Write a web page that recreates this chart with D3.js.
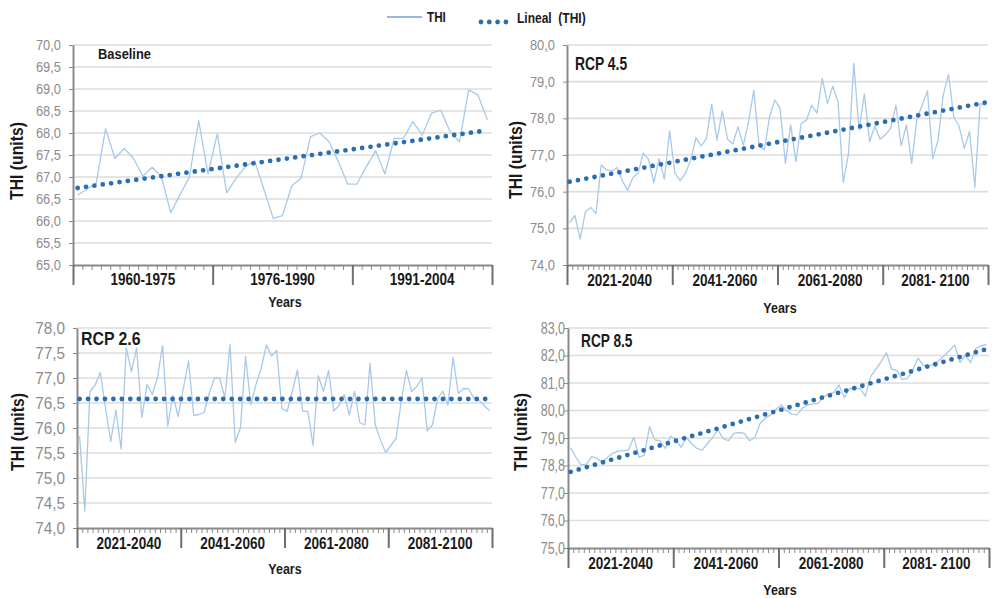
<!DOCTYPE html>
<html>
<head>
<meta charset="utf-8">
<script src="https://cdn.jsdelivr.net/npm/d3@7"></script>
<style>
  body { margin: 0; background: #ffffff; }
  svg { font-family: "Liberation Sans", Arial, sans-serif; display: block; }
</style>
</head>
<body>
<svg id="chart" width="992" height="598"></svg>
<script>
// Annual THI series, one value per year
const baselineTHI = [
  66.59, 66.72, 66.86, 68.10, 67.42, 67.65, 67.42, 67.02, 67.22, 67.00,
  66.19, 66.60, 67.00, 68.28, 67.07, 67.98, 66.64, 66.97, 67.23, 67.37,
  66.72, 66.06, 66.12, 66.80, 66.97, 67.92, 68.00, 67.80, 67.35, 66.84,
  66.84, 67.23, 67.60, 67.07, 67.88, 67.88, 68.26, 67.95, 68.45, 68.52,
  68.03, 67.80, 68.98, 68.86, 68.30
];
const rcp45THI = [
  75.15, 75.35, 74.71, 75.45, 75.57, 75.40, 76.73, 76.60, 76.56, 76.66,
  76.30, 76.03, 76.38, 76.50, 77.05, 76.88, 76.25, 76.90, 76.34, 77.66,
  76.50, 76.30, 76.50, 76.86, 77.47, 77.25, 77.45, 78.39, 77.40, 78.20,
  77.43, 77.30, 77.77, 77.27, 77.90, 78.77, 77.25, 77.14, 78.05, 78.50,
  78.27, 76.77, 77.82, 76.82, 77.86, 77.95, 78.36, 78.14, 79.09, 78.40,
  78.88, 78.45, 76.25, 77.05, 79.50, 77.68, 78.66, 77.36, 77.79, 77.43,
  77.55, 77.73, 78.36, 77.25, 77.82, 76.77, 78.00, 78.36, 78.75, 76.90,
  77.40, 78.64, 79.20, 78.03, 77.79, 77.18, 77.64, 76.12, 78.40, 78.35
];
const rcp26THI = [
  75.83, 74.34, 76.73, 76.86, 77.11, 76.40, 75.73, 76.36, 75.58, 77.60,
  77.13, 77.60, 76.21, 76.87, 76.67, 77.00, 77.65, 76.04, 76.65, 76.23,
  76.79, 77.34, 76.25, 76.27, 76.31, 76.69, 77.00, 77.00, 76.60, 77.67,
  75.71, 76.00, 77.43, 76.47, 76.87, 77.19, 77.66, 77.44, 77.55, 76.39,
  76.33, 76.73, 77.16, 76.34, 76.33, 75.65, 77.05, 76.73, 77.15, 76.34,
  76.45, 76.67, 76.26, 76.73, 76.11, 76.06, 77.29, 76.06, 75.76, 75.51,
  75.65, 75.79, 76.53, 77.15, 76.73, 76.83, 77.00, 75.94, 76.06, 76.58,
  76.74, 76.46, 77.41, 76.69, 76.79, 76.78, 76.60, 76.55, 76.45, 76.35
];
const rcp85THI = [
  78.65, 78.30, 78.02, 78.05, 78.32, 78.26, 78.10, 78.30, 78.44, 78.52,
  78.54, 78.56, 79.02, 78.30, 78.38, 79.41, 78.93, 78.90, 78.62, 79.07,
  78.93, 78.66, 79.02, 78.80, 78.62, 78.56, 78.80, 79.02, 79.29, 78.98,
  78.90, 79.17, 79.20, 79.17, 78.90, 79.02, 79.53, 79.72, 79.84, 80.04,
  80.20, 80.00, 79.87, 79.84, 80.08, 80.20, 80.24, 80.26, 80.48, 80.60,
  80.65, 80.93, 80.47, 80.80, 80.80, 80.80, 80.52, 81.23, 81.50, 81.78,
  82.10, 81.50, 81.45, 81.13, 81.17, 81.47, 81.90, 81.65, 81.60, 81.70,
  81.81, 82.00, 82.18, 82.38, 81.74, 82.02, 81.74, 82.26, 82.35, 82.40
];

// Linear trend (first year, last year)
const baselineTrend = [66.75, 68.06];
const rcp45Trend = [76.27, 78.43];
const rcp26Trend = [76.58, 76.58];
const rcp85Trend = [77.77, 82.23];

// Period labels along the x axis
const baselinePeriods = ["1960-1975", "1976-1990", "1991-2004"];
const rcpPeriods = ["2021-2040", "2041-2060", "2061-2080", "2081- 2100"];
const rcp26Periods = ["2021-2040", "2041-2060", "2061-2080", "2081-2100"];

// Y tick values and their printed labels
const baselineTicks = [65, 65.5, 66, 66.5, 67, 67.5, 68, 68.5, 69, 69.5, 70];
const baselineTickLabels = ["65,0", "65,5", "66,0", "66,5", "67,0", "67,5", "68,0", "68,5", "69,0", "69,5", "70,0"];
const rcp45Ticks = [74, 75, 76, 77, 78, 79, 80];
const rcp45TickLabels = ["74,0", "75,0", "76,0", "77,0", "78,0", "79,0", "80,0"];
const rcp26Ticks = [74, 74.5, 75, 75.5, 76, 76.5, 77, 77.5, 78];
const rcp26TickLabels = ["74,0", "74,5", "75,0", "75,5", "76,0", "76,5", "77,0", "77,5", "78,0"];
const rcp85Ticks = [75, 76, 77, 78, 79, 80, 81, 82, 83];
const rcp85TickLabels = ["75,0", "76,0", "77,0", "78,8", "79,0", "80,0", "81,0", "82,0", "83,0"];

const LINE_COLOR = "#a9c9e8";
const TREND_COLOR = "#2a6db0";
const GRID_COLOR = "#dddddd";
const AXIS_COLOR = "#8a8a8a";
const TICK_TEXT = "#8c8c8c";
const DARK = "#1a1a1a";

// narrow a text run horizontally, keeping its anchor
function squeeze(sel, factor) {
  sel.each(function () {
    const w = this.getComputedTextLength();
    d3.select(this).attr("textLength", w * factor).attr("lengthAdjust", "spacingAndGlyphs");
  });
}

const panels = [
  { title: "Baseline", titleSize: 14, titleSqueeze: 0.92, titleX: 98, titleY: 59,
    values: baselineTHI, trend: baselineTrend, periods: baselinePeriods,
    ticks: baselineTicks, tickLabels: baselineTickLabels,
    left: 73, right: 492, top: 45, bottom: 265,
    tickFont: 14, tickSqueeze: 0.92, tickGap: 12, catY: 284, yearsX: 285, yearsY: 307, ylabX: 17, ylabY: 161 },
  { title: "RCP 4.5", titleSize: 18, titleSqueeze: 0.77, titleX: 575, titleY: 70,
    values: rcp45THI, trend: rcp45Trend, periods: rcpPeriods,
    ticks: rcp45Ticks, tickLabels: rcp45TickLabels,
    left: 567, right: 988, top: 45, bottom: 265,
    tickFont: 14, tickSqueeze: 0.92, tickGap: 12, catY: 285, yearsX: 780, yearsY: 313, ylabX: 516, ylabY: 160 },
  { title: "RCP 2.6", titleSize: 18, titleSqueeze: 0.88, titleX: 81, titleY: 345,
    values: rcp26THI, trend: rcp26Trend, periods: rcp26Periods,
    ticks: rcp26Ticks, tickLabels: rcp26TickLabels,
    left: 77, right: 492, top: 328, bottom: 528,
    tickFont: 17, tickSqueeze: 0.9, tickGap: 12, catY: 548, yearsX: 285, yearsY: 574, ylabX: 18, ylabY: 432 },
  { title: "RCP 8.5", titleSize: 18, titleSqueeze: 0.76, titleX: 581, titleY: 347,
    values: rcp85THI, trend: rcp85Trend, periods: rcpPeriods,
    ticks: rcp85Ticks, tickLabels: rcp85TickLabels,
    left: 568, right: 989, top: 328, bottom: 548,
    tickFont: 16, tickSqueeze: 0.78, tickGap: 3, catY: 568, yearsX: 780, yearsY: 595, ylabX: 521, ylabY: 432 }
];

const svg = d3.select("#chart");

panels.forEach(p => {
  const n = p.values.length;
  const x = d3.scaleLinear().domain([0, n]).range([p.left, p.right]);
  const y = d3.scaleLinear().domain([p.ticks[0], p.ticks[p.ticks.length - 1]]).range([p.bottom, p.top]);
  const g = svg.append("g");

  // horizontal gridlines
  g.append("g").selectAll("line")
    .data(p.ticks.slice(1))
    .join("line")
    .attr("x1", p.left).attr("x2", p.right)
    .attr("y1", d => y(d)).attr("y2", d => y(d))
    .attr("stroke", GRID_COLOR).attr("stroke-width", 1.6);

  // y axis
  const yAxis = g.append("g")
    .attr("transform", `translate(${p.left},0)`)
    .call(d3.axisLeft(y).tickValues(p.ticks).tickSize(4).tickSizeOuter(0)
      .tickPadding(p.tickGap - 4)
      .tickFormat((d, i) => p.tickLabels[i]));
  yAxis.select(".domain").attr("stroke", AXIS_COLOR).attr("stroke-width", 2);
  yAxis.selectAll(".tick line").attr("stroke", AXIS_COLOR).attr("stroke-width", 1);
  yAxis.selectAll(".tick text")
    .attr("fill", TICK_TEXT).attr("font-size", p.tickFont)
    .attr("font-family", "'Liberation Sans', Arial, sans-serif")
    .call(squeeze, p.tickSqueeze);

  // x axis: a tick at every year boundary
  const yearCuts = d3.range(n + 1);
  const xAxis = g.append("g")
    .attr("transform", `translate(0,${p.bottom})`)
    .call(d3.axisBottom(x).tickValues(yearCuts).tickSize(5).tickSizeOuter(0).tickFormat(""));
  xAxis.select(".domain").attr("stroke", AXIS_COLOR).attr("stroke-width", 2);
  xAxis.selectAll(".tick line").attr("stroke", AXIS_COLOR).attr("stroke-width", 1);

  // long separators between periods
  const per = n / p.periods.length;
  const periodCuts = d3.range(p.periods.length + 1).map(k => k * per);
  const sep = g.append("g")
    .attr("transform", `translate(0,${p.bottom})`)
    .call(d3.axisBottom(x).tickValues(periodCuts).tickSize(20).tickSizeOuter(0).tickFormat(""));
  sep.select(".domain").remove();
  sep.selectAll(".tick line").attr("stroke", "#6e6e6e").attr("stroke-width", 2);

  // period labels
  g.append("g").selectAll("text")
    .data(p.periods)
    .join("text")
    .attr("x", (d, k) => x((k + 0.5) * per))
    .attr("y", p.catY + 1)
    .attr("text-anchor", "middle")
    .attr("font-size", 16.5)
    .attr("font-weight", "bold")
    .attr("fill", DARK)
    .text(d => d)
    .call(squeeze, 0.82);

  // THI series
  const line = d3.line().x((d, i) => x(i + 0.5)).y(d => y(d));
  g.append("path")
    .datum(p.values)
    .attr("d", line)
    .attr("fill", "none")
    .attr("stroke", LINE_COLOR)
    .attr("stroke-width", 1.3)
    .attr("stroke-linejoin", "round");

  // linear trend, dotted
  const trendPts = [[0.5, p.trend[0]], [n - 0.5, p.trend[1]]];
  g.append("path")
    .datum(trendPts)
    .attr("d", d3.line().x(d => x(d[0])).y(d => y(d[1])))
    .attr("fill", "none")
    .attr("stroke", TREND_COLOR)
    .attr("stroke-width", 4.8)
    .attr("stroke-linecap", "round")
    .attr("stroke-dasharray", "0 8.45");

  // panel title
  g.append("text")
    .attr("x", p.titleX).attr("y", p.titleY)
    .attr("font-size", p.titleSize).attr("font-weight", "bold")
    .attr("fill", DARK)
    .text(p.title)
    .call(squeeze, p.titleSqueeze);

  // axis titles
  g.append("text")
    .attr("x", p.yearsX).attr("y", p.yearsY)
    .attr("text-anchor", "middle")
    .attr("font-size", 14.5).attr("font-weight", "bold")
    .attr("fill", DARK)
    .text("Years")
    .call(squeeze, 0.86);

  g.append("text")
    .attr("transform", `translate(${p.ylabX + 6},${p.ylabY}) rotate(-90)`)
    .attr("text-anchor", "middle")
    .attr("font-size", 17.5).attr("font-weight", "bold")
    .attr("fill", DARK)
    .text("THI (units)")
    .call(squeeze, 0.9);
});

// legend
const legend = svg.append("g");
legend.append("line")
  .attr("x1", 387).attr("x2", 422).attr("y1", 17).attr("y2", 17)
  .attr("stroke", "#6fa2d6").attr("stroke-width", 1.5);
legend.append("text")
  .attr("x", 427).attr("y", 22)
  .attr("font-size", 15).attr("font-weight", "bold").attr("fill", DARK)
  .text("THI")
  .call(squeeze, 0.78);
legend.append("line")
  .attr("x1", 481).attr("x2", 506).attr("y1", 22).attr("y2", 22)
  .attr("stroke", TREND_COLOR).attr("stroke-width", 4.8)
  .attr("stroke-linecap", "round").attr("stroke-dasharray", "0 8.3");
legend.append("text")
  .attr("x", 517).attr("y", 23)
  .attr("font-size", 15).attr("font-weight", "bold").attr("fill", DARK)
  .attr("xml:space", "preserve")
  .text("Lineal  (THI)")
  .call(squeeze, 0.8);
</script>
</body>
</html>
